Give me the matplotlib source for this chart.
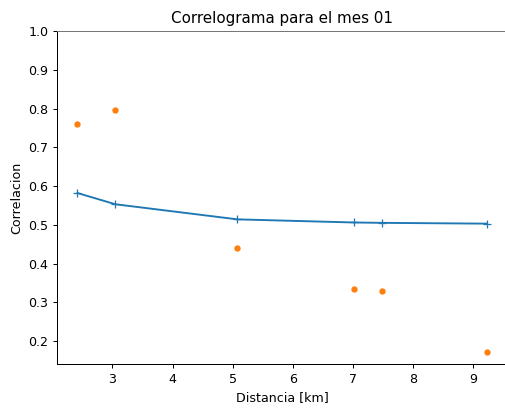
import matplotlib
matplotlib.use("Agg")
import matplotlib.pyplot as plt

dist = [2.42, 3.05, 5.08, 7.01, 7.49, 9.22]
corr_fit = [0.582, 0.553, 0.514, 0.506, 0.505, 0.503]
corr_obs = [0.760, 0.795, 0.440, 0.335, 0.328, 0.172]

DPI = 91
fig = plt.figure(figsize=(505/DPI, 411/DPI), dpi=DPI)
ax = fig.add_axes([57/505, 47/411, 450/505, 333/411])
ax.plot(dist, corr_fit, marker='+', color='#1f77b4')
ax.plot(dist, corr_obs, 'o', color='#ff7f0e', markersize=4)
ax.set_ylim(top=1.0)
ax.set_title("Correlograma para el mes 01")
ax.set_xlabel("Distancia [km]")
ax.set_ylabel("Correlacion")
ax.spines['right'].set_visible(False)
ax.spines['top'].set_color('#777777')
fig.savefig("out.png", dpi=DPI)
